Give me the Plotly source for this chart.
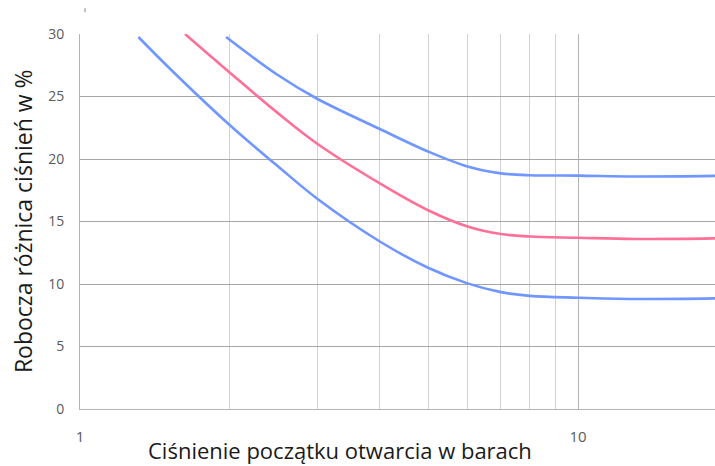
import plotly.graph_objects as go

# Curves: working pressure differential vs. opening pressure (log scale)
x_low = [1.31, 1.5, 2.0, 2.5, 3.0, 4.0, 5.0, 6.0, 7.0, 8.0, 10.0, 13.0, 18.84]
y_low = [29.76, 27.4, 22.7, 19.4, 16.8, 13.4, 11.3, 10.05, 9.35, 9.05, 8.9, 8.8, 8.85]

x_mid = [1.625, 2.0, 2.5, 3.0, 4.0, 5.0, 6.0, 7.0, 8.0, 10.0, 13.0, 18.84]
y_mid = [30.0, 26.9, 23.65, 21.2, 18.05, 15.9, 14.6, 14.0, 13.8, 13.7, 13.6, 13.65]

x_high = [1.965, 2.5, 3.0, 4.0, 5.0, 6.0, 7.0, 8.0, 10.0, 13.0, 18.84]
y_high = [29.76, 26.7, 24.8, 22.4, 20.6, 19.4, 18.85, 18.7, 18.67, 18.6, 18.65]

y_ticks = [0, 5, 10, 15, 20, 25, 30]
x_major = [1, 10]
x_minor = [2, 3, 4, 5, 6, 7, 8, 9, 20]

BLUE = "rgb(112,150,255)"
PINK = "rgb(255,112,152)"
FONT = "Open Sans"

fig = go.Figure()
for xs, ys, col in [(x_low, y_low, BLUE), (x_mid, y_mid, PINK), (x_high, y_high, BLUE)]:
    fig.add_trace(go.Scatter(x=xs, y=ys, mode="lines",
                             line=dict(color=col, width=2.6, shape="spline", smoothing=1.0),
                             showlegend=False, hoverinfo="skip"))

fig.update_layout(
    width=715, height=466,
    margin=dict(l=80, r=0, t=34, b=57),
    paper_bgcolor="white", plot_bgcolor="white",
    font=dict(family=FONT, color="#595959"),
    xaxis=dict(
        type="log", range=[0, 1.2751],
        tickvals=x_major, ticktext=[str(v) for v in x_major],
        tickfont=dict(size=15, color="#595959"),
        ticks="", ticklabelstandoff=14,
        showgrid=True, gridcolor="#b4b4b4", gridwidth=1,
        minor=dict(tickvals=x_minor, showgrid=True, gridcolor="#d2d2d2", gridwidth=1, ticks=""),
        showline=True, linecolor="#b4b4b4", linewidth=1,
        zeroline=False,
    ),
    yaxis=dict(
        range=[0, 30], tickvals=y_ticks,
        tickfont=dict(size=14, color="#595959"),
        ticks="", ticklabelstandoff=12,
        showgrid=True, gridcolor="#a6a6a6", gridwidth=1,
        showline=True, linecolor="#b4b4b4", linewidth=1,
        zeroline=False,
    ),
    annotations=[
        dict(text="Ciśnienie początku otwarcia w barach", xref="paper", yref="paper",
             x=(340 - 80) / 635, y=-0.108, xanchor="center", yanchor="middle",
             showarrow=False, font=dict(size=22, color="#1a1a1a", family=FONT)),
        dict(text="Robocza różnica ciśnień w %", xref="paper", yref="paper",
             x=-0.0904, y=0.5, xanchor="center", yanchor="middle", textangle=-90,
             showarrow=False, font=dict(size=23, color="#1a1a1a", family=FONT)),
    ],
    shapes=[dict(type="line", xref="x domain", yref="y domain",
                 x0=0.0079, x1=0.0079, y0=1.058, y1=1.069,
                 line=dict(color="#8a8a8a", width=1))],
)

fig.write_html("out.html")
